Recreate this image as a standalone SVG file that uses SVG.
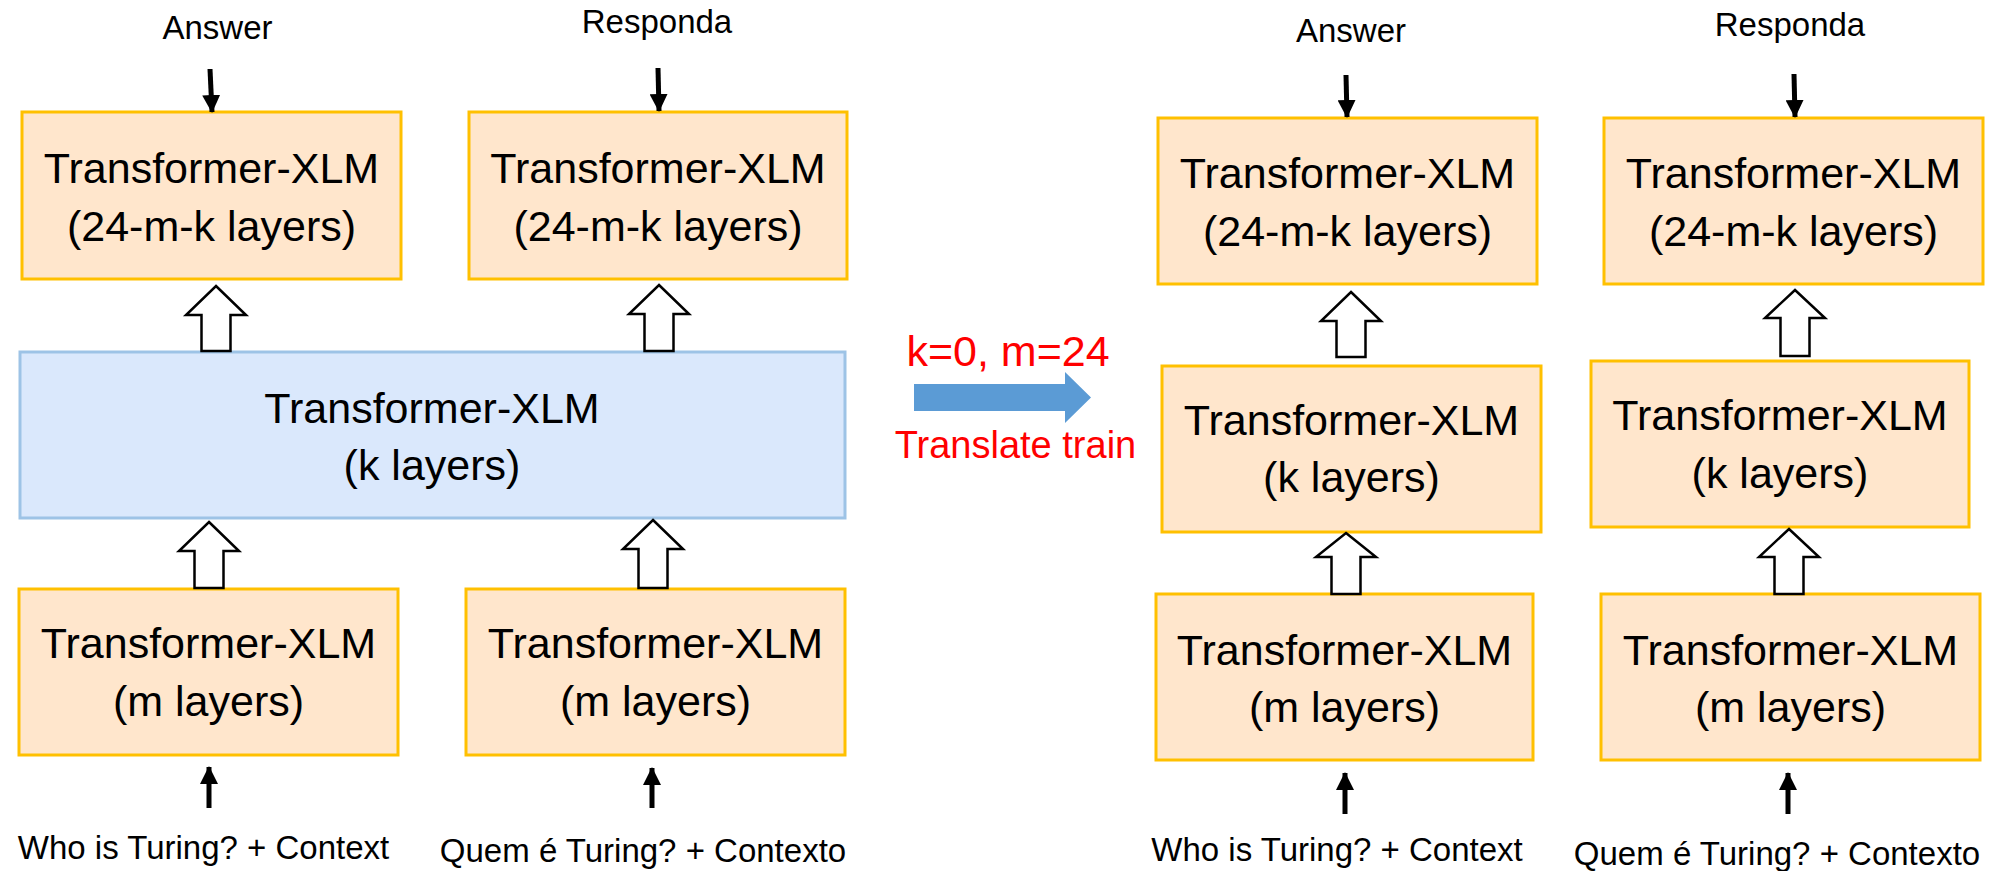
<svg xmlns="http://www.w3.org/2000/svg" width="1997" height="871" viewBox="0 0 1997 871">
<style>
text{font-family:"Liberation Sans",Arial,sans-serif;fill:#000;text-anchor:middle}
.box{fill:#FFE6CC;stroke:#FFC000;stroke-width:3}
.blue{fill:#DAE8FC;stroke:#9DC3E6;stroke-width:3}
.t{font-size:43px}
.lbl{font-size:33px}
.red{fill:#FF0000}
.hollow{fill:#fff;stroke:#000;stroke-width:2.5;stroke-linejoin:miter}
.thin{stroke:#000;stroke-width:5;fill:none}
</style>
<defs>
<marker id="ah" markerUnits="userSpaceOnUse" markerWidth="18" markerHeight="18" viewBox="0 0 18 18" refX="17" refY="9" orient="auto">
<path d="M0,0 L18,9 L0,18 Z" fill="#000"/>
</marker>
</defs>
<rect width="1997" height="871" fill="#fff"/>

<g id="node-top-left"><rect class="box" x="22" y="112" width="379" height="167"/><text class="t" x="211.5" y="183">Transformer-XLM</text><text class="t" x="211.5" y="241">(24-m-k layers)</text></g>
<g id="node-top-mid"><rect class="box" x="469" y="112" width="378" height="167"/><text class="t" x="658" y="183">Transformer-XLM</text><text class="t" x="658" y="241">(24-m-k layers)</text></g>
<g id="node-shared"><rect class="blue" x="20" y="352" width="825" height="166"/><text class="t" x="432" y="423">Transformer-XLM</text><text class="t" x="432" y="480">(k layers)</text></g>
<g id="node-bot-left"><rect class="box" x="19" y="589" width="379" height="166"/><text class="t" x="208.5" y="658">Transformer-XLM</text><text class="t" x="208.5" y="716">(m layers)</text></g>
<g id="node-bot-mid"><rect class="box" x="466" y="589" width="379" height="166"/><text class="t" x="655.5" y="658">Transformer-XLM</text><text class="t" x="655.5" y="716">(m layers)</text></g>

<g id="node-r-top1"><rect class="box" x="1158" y="118" width="379" height="166"/><text class="t" x="1347.5" y="188">Transformer-XLM</text><text class="t" x="1347.5" y="246">(24-m-k layers)</text></g>
<g id="node-r-top2"><rect class="box" x="1604" y="118" width="379" height="166"/><text class="t" x="1793.5" y="188">Transformer-XLM</text><text class="t" x="1793.5" y="246">(24-m-k layers)</text></g>
<g id="node-r-mid1"><rect class="box" x="1162" y="366" width="379" height="166"/><text class="t" x="1351.5" y="435">Transformer-XLM</text><text class="t" x="1351.5" y="492">(k layers)</text></g>
<g id="node-r-mid2"><rect class="box" x="1591" y="361" width="378" height="166"/><text class="t" x="1780" y="430">Transformer-XLM</text><text class="t" x="1780" y="488">(k layers)</text></g>
<g id="node-r-bot1"><rect class="box" x="1156" y="594" width="377" height="166"/><text class="t" x="1344.5" y="665">Transformer-XLM</text><text class="t" x="1344.5" y="722">(m layers)</text></g>
<g id="node-r-bot2"><rect class="box" x="1601" y="594" width="379" height="166"/><text class="t" x="1790.5" y="665">Transformer-XLM</text><text class="t" x="1790.5" y="722">(m layers)</text></g>

<g id="labels">
<text class="lbl" x="217.5" y="39">Answer</text>
<text class="lbl" x="657" y="33">Responda</text>
<text class="lbl" x="1351" y="42">Answer</text>
<text class="lbl" x="1790" y="36">Responda</text>
<text class="lbl" x="203.5" y="859">Who is Turing? + Context</text>
<text class="lbl" x="643" y="862">Quem é Turing? + Contexto</text>
<text class="lbl" x="1337" y="861">Who is Turing? + Context</text>
<text class="lbl" x="1777" y="865">Quem é Turing? + Contexto</text>
</g>

<g id="transition">
<polygon points="914,384 1065,384 1065,372 1091,397.5 1065,423 1065,411 914,411" fill="#5B9BD5"/>
<text class="red" x="1008" y="366" style="font-size:43px">k=0, m=24</text>
<text class="red" x="1015.5" y="458" style="font-size:38px">Translate train</text>
</g>

<g id="connectors">
<line class="thin" x1="210" y1="69" x2="212" y2="112" marker-end="url(#ah)"/>
<line class="thin" x1="658" y1="68" x2="659" y2="111" marker-end="url(#ah)"/>
<line class="thin" x1="1346" y1="75" x2="1347" y2="117" marker-end="url(#ah)"/>
<line class="thin" x1="1794" y1="74" x2="1795" y2="117" marker-end="url(#ah)"/>
<line class="thin" x1="209" y1="808" x2="209" y2="767" marker-end="url(#ah)"/>
<line class="thin" x1="652" y1="808" x2="652" y2="768" marker-end="url(#ah)"/>
<line class="thin" x1="1345" y1="814" x2="1345" y2="773" marker-end="url(#ah)"/>
<line class="thin" x1="1788" y1="814" x2="1788" y2="773" marker-end="url(#ah)"/>

<polygon class="hollow" points="216,286 246,315 230.5,315 230.5,351 201.5,351 201.5,315 186,315"/>
<polygon class="hollow" points="209,522 239,551 223.5,551 223.5,588 194.5,588 194.5,551 179,551"/>
<polygon class="hollow" points="659,285 689,314 673.5,314 673.5,351 644.5,351 644.5,314 629,314"/>
<polygon class="hollow" points="653,520 683,549 667.5,549 667.5,588 638.5,588 638.5,549 623,549"/>
<polygon class="hollow" points="1351,292 1381,321 1365.5,321 1365.5,357 1336.5,357 1336.5,321 1321,321"/>
<polygon class="hollow" points="1795,290 1825,318 1809.5,318 1809.5,356 1780.5,356 1780.5,318 1765,318"/>
<polygon class="hollow" points="1346,533 1376,557 1360.5,557 1360.5,594 1331.5,594 1331.5,557 1316,557"/>
<polygon class="hollow" points="1789,529 1819,557 1803.5,557 1803.5,594 1774.5,594 1774.5,557 1759,557"/>
</g>
</svg>
